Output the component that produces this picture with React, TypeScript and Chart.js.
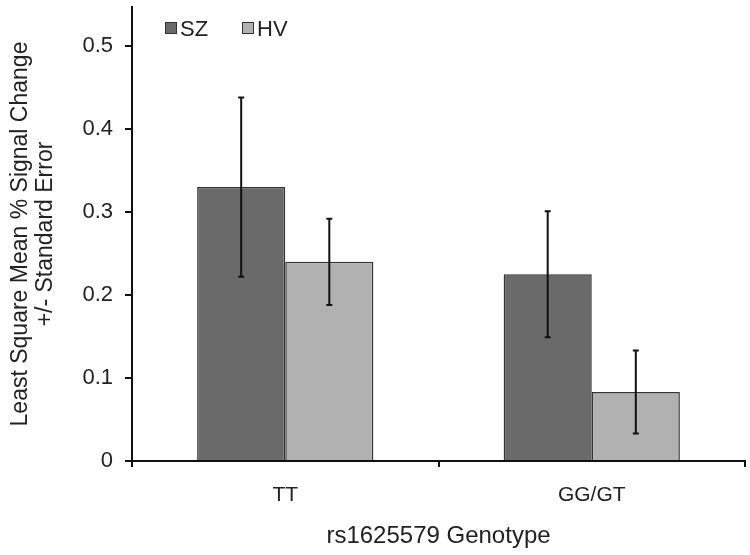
import React, { useEffect, useRef } from "react";
import { Chart, registerables } from "chart.js";

Chart.register(...registerables);

const categories = ["TT", "GG/GT"];
const seriesNames = ["SZ", "HV"];
const szValues = [0.33, 0.225];
const hvValues = [0.24, 0.083];
const szErrors = [0.108, 0.076];
const hvErrors = [0.052, 0.05];
const yTickValues = [0, 0.1, 0.2, 0.3, 0.4, 0.5];
const seriesColors = ["#6a6a6a", "#b1b1b1"];
const errorsBySeries = [szErrors, hvErrors];

const FONT = "'Liberation Sans', Arial, sans-serif";

const errorBarPlugin = {
  id: "errorBars",
  afterDatasetsDraw(chart: any) {
    const ctx = chart.ctx;
    const yScale = chart.scales.y;
    ctx.save();
    ctx.strokeStyle = "#111";
    ctx.lineWidth = 2;
    chart.data.datasets.forEach((ds: any, i: number) => {
      const meta = chart.getDatasetMeta(i);
      const errs = errorsBySeries[i];
      meta.data.forEach((bar: any, j: number) => {
        const v = ds.data[j];
        const e = errs[j];
        const x = bar.x;
        const yTop = yScale.getPixelForValue(v + e);
        const yBot = yScale.getPixelForValue(v - e);
        ctx.beginPath();
        ctx.moveTo(x, yTop);
        ctx.lineTo(x, yBot);
        ctx.moveTo(x - 3, yTop);
        ctx.lineTo(x + 3, yTop);
        ctx.moveTo(x - 3, yBot);
        ctx.lineTo(x + 3, yBot);
        ctx.stroke();
      });
    });
    ctx.restore();
  },
};

const legendPlugin = {
  id: "insideLegend",
  afterDraw(chart: any) {
    const ctx = chart.ctx;
    const positions = [165, 242];
    ctx.save();
    ctx.font = `22px ${FONT}`;
    ctx.textBaseline = "middle";
    ctx.textAlign = "left";
    chart.data.datasets.forEach((ds: any, i: number) => {
      const bx = positions[i];
      const by = 22;
      ctx.fillStyle = ds.backgroundColor;
      ctx.fillRect(bx, by, 12, 12);
      ctx.strokeStyle = "#333";
      ctx.lineWidth = 1;
      ctx.strokeRect(bx + 0.5, by + 0.5, 11, 11);
      ctx.fillStyle = "#222";
      ctx.fillText(ds.label, bx + 15, by + 8);
    });
    ctx.restore();
  },
};

export default function App() {
  const canvasRef = useRef<HTMLCanvasElement | null>(null);

  useEffect(() => {
    if (!canvasRef.current) return;
    const chart = new Chart(canvasRef.current, {
      type: "bar",
      data: {
        labels: categories,
        datasets: [
          {
            label: seriesNames[0],
            data: szValues,
            backgroundColor: seriesColors[0],
            borderColor: "#333",
            borderWidth: 1.5,
            categoryPercentage: 0.575,
            barPercentage: 1,
          },
          {
            label: seriesNames[1],
            data: hvValues,
            backgroundColor: seriesColors[1],
            borderColor: "#333",
            borderWidth: 1.5,
            categoryPercentage: 0.575,
            barPercentage: 1,
          },
        ],
      },
      options: {
        responsive: false,
        animation: false,
        layout: { padding: { top: 7, right: 5, left: 0, bottom: 0 } },
        plugins: {
          legend: { display: false },
          tooltip: { enabled: false },
        },
        scales: {
          x: {
            grid: {
              display: true,
              drawOnChartArea: false,
              drawTicks: true,
              tickLength: 6,
              color: "#111",
              lineWidth: 2,
              offset: true,
            },
            border: { display: true, color: "#111", width: 2 },
            ticks: {
              color: "#222",
              font: { family: FONT, size: 21 },
              padding: 16,
            },
            title: {
              display: true,
              text: "rs1625579 Genotype",
              color: "#222",
              font: { family: FONT, size: 24 },
              padding: { top: 0, bottom: 4 },
            },
            afterFit(scale: any) {
              scale.height = 94;
              scale.paddingLeft = 0;
              scale.paddingRight = 0;
            },
          },
          y: {
            min: 0,
            max: 0.547,
            grid: {
              display: true,
              drawOnChartArea: false,
              drawTicks: true,
              tickLength: 7,
              color: "#111",
              lineWidth: 2,
            },
            border: { display: true, color: "#111", width: 2 },
            afterBuildTicks(scale: any) {
              scale.ticks = yTickValues.map((v) => ({ value: v }));
            },
            ticks: {
              color: "#222",
              font: { family: FONT, size: 22 },
              padding: 12,
              callback: (v: any) => (Number(v) === 0 ? "0" : Number(v).toFixed(1)),
            },
            title: {
              display: true,
              text: ["Least Square Mean % Signal Change", "+/- Standard Error"],
              color: "#222",
              font: { family: FONT, size: 23, lineHeight: 1.05 },
              padding: { top: 9, bottom: 0 },
            },
            afterFit(scale: any) {
              scale.width = 132;
              scale.paddingTop = 0;
              scale.paddingBottom = 0;
            },
          },
        },
      },
      plugins: [errorBarPlugin, legendPlugin],
    });
    return () => chart.destroy();
  }, []);

  return (
    <canvas
      ref={canvasRef}
      width={750}
      height={555}
      style={{ position: "absolute", left: 0, top: 0, width: 750, height: 555 }}
    />
  );
}
